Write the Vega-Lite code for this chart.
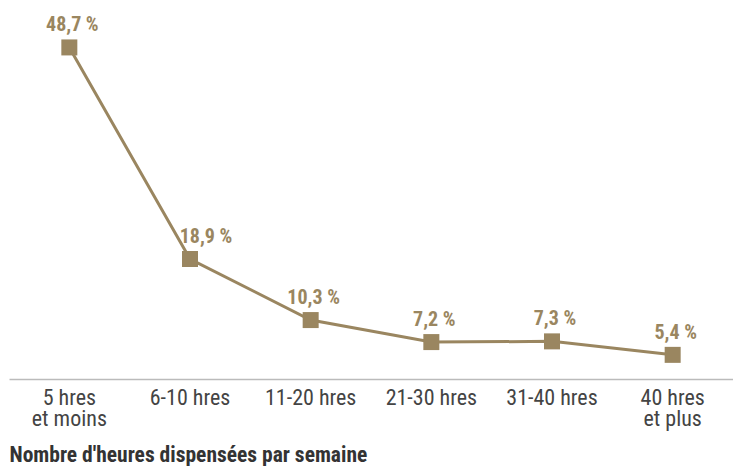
{
  "$schema": "https://vega.github.io/schema/vega-lite/v6.json",
  "width": 724,
  "height": 355,
  "autosize": "none",
  "padding": {"left": 9, "top": 24, "right": 0, "bottom": 87},
  "background": "white",
  "config": {"view": {"stroke": null}},
  "data": {"values": [
    {"cat": "5 hres et moins", "pct": 48.7, "label": "48,7 %"},
    {"cat": "6-10 hres", "pct": 18.9, "label": "18,9 %"},
    {"cat": "11-20 hres", "pct": 10.3, "label": "10,3 %"},
    {"cat": "21-30 hres", "pct": 7.2, "label": "7,2 %"},
    {"cat": "31-40 hres", "pct": 7.3, "label": "7,3 %"},
    {"cat": "40 hres et plus", "pct": 5.4, "label": "5,4 %"}
  ]},
  "encoding": {
    "x": {"field": "cat", "type": "nominal", "sort": null,
      "scale": {"type": "band", "paddingInner": 0, "paddingOuter": 0},
      "axis": {
        "title": "Nombre d'heures dispensées par semaine",
        "titleFont": "Roboto Condensed", "titleFontSize": 21.5, "titleFontWeight": "bold", "titleColor": "#333333",
        "titleAnchor": "start", "titleAlign": "left", "titleBaseline": "alphabetic", "titleX": 0, "titleY": 82,
        "labelAngle": 0, "labelFont": "Roboto Condensed", "labelFontSize": 22, "labelColor": "#444444",
        "labelPadding": 8, "labelLineHeight": 21,
        "labelExpr": "datum.value == '5 hres et moins' ? ['5 hres','et moins'] : datum.value == '40 hres et plus' ? ['40 hres','et plus'] : datum.value",
        "ticks": false, "domainColor": "#bbbbbb", "domainWidth": 1.5, "grid": false
      }},
    "y": {"field": "pct", "type": "quantitative", "scale": {"domain": [2, 52], "nice": false, "zero": false}, "axis": null}
  },
  "layer": [
    {"mark": {"type": "line", "color": "#9a8660", "strokeWidth": 3}},
    {"mark": {"type": "square", "color": "#9a8660", "opacity": 1, "filled": true, "size": 256}},
    {"transform": [{"filter": "datum.pct != 18.9"}],
     "mark": {"type": "text", "font": "Roboto Condensed", "fontWeight": "bold", "fontSize": 20, "color": "#9a8660", "baseline": "alphabetic", "dy": -16, "dx": 3},
     "encoding": {"text": {"field": "label"}}},
    {"transform": [{"filter": "datum.pct == 18.9"}],
     "mark": {"type": "text", "font": "Roboto Condensed", "fontWeight": "bold", "fontSize": 20, "color": "#9a8660", "baseline": "alphabetic", "dy": -16, "dx": 16},
     "encoding": {"text": {"field": "label"}}}
  ]
}
